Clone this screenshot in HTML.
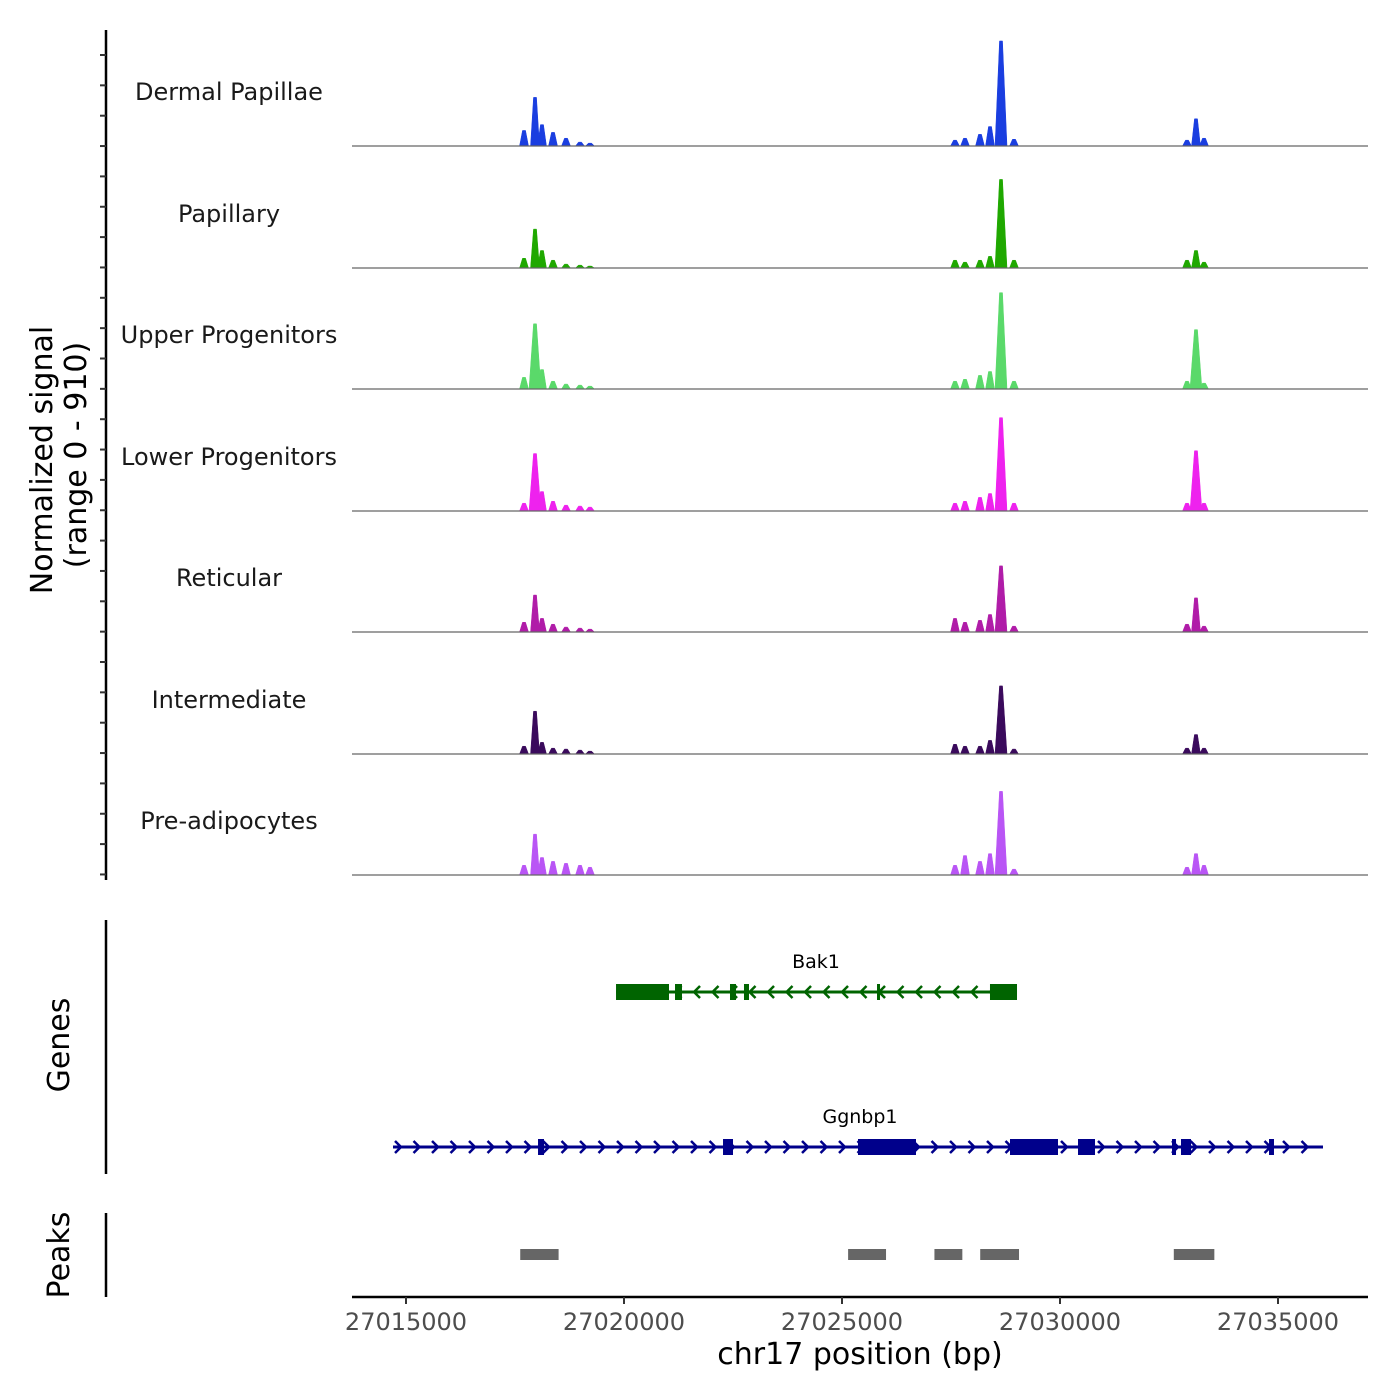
<!DOCTYPE html>
<html><head><meta charset="utf-8"><style>
body{margin:0;background:#fff;}
svg{display:block;font-family:"DejaVu Sans","Liberation Sans",sans-serif;}
</style></head><body>
<svg id="chart" width="1400" height="1400" xmlns="http://www.w3.org/2000/svg">
<rect width="1400" height="1400" fill="#fff"/>
<g id="tracks"></g>
<g id="left"></g>
<g id="genes"></g>
<g id="peaks"></g>
<g id="xaxis"></g>
</svg>
<script>
const NS="http://www.w3.org/2000/svg";
const trackNames=["Dermal Papillae","Papillary","Upper Progenitors","Lower Progenitors","Reticular","Intermediate","Pre-adipocytes"];
const trackColors=["#1a3ee0","#1fa800","#5ad96a","#ee22ee","#b01ca8","#3a0a5c","#b955f5"];
const peakPositions=[27017707,27017959,27018119,27018372,27018670,27018991,27019220,27027592,27027821,27028165,27028395,27028647,27028945,27032913,27033119,27033303];
const sigDermal=[120,375,165,105,60,30,22,45,60,90,150,810,52,45,210,60];
const sigPapillary=[75,300,135,60,30,22,15,60,45,60,90,683,60,60,135,45];
const sigUpper=[90,503,150,60,38,30,22,60,75,105,135,743,60,60,458,45];
const sigLower=[60,443,150,75,45,38,30,60,75,105,135,720,60,60,465,60];
const sigReticular=[75,285,105,60,38,30,22,105,75,90,135,510,45,60,263,45];
const sigIntermediate=[60,330,90,45,38,30,22,75,60,60,105,525,38,45,150,45];
const sigPreadip=[75,315,135,105,90,75,60,75,150,105,165,645,45,60,165,75];
const signals=[sigDermal,sigPapillary,sigUpper,sigLower,sigReticular,sigIntermediate,sigPreadip];
const xTicks=[27015000,27020000,27025000,27030000,27035000];
const peakRegions=[[27017620,27018500],[27025140,27026010],[27027120,27027760],[27028170,27029060],[27032610,27033540]];
const bak1Span=[27019817,27029014];
const bak1Exons=[[27019817,27021032],[27021170,27021330],[27022431,27022569],[27022752,27022867],[27025803,27025872],[27028394,27029014]];
const ggnSpan=[27014702,27036032];
const ggnExons=[[27018028,27018165],[27022271,27022500],[27025367,27026697],[27028853,27029954],[27030413,27030803],[27032569,27032661],[27032775,27033005],[27034794,27034908]];
const YMAX=910;

const x=bp=>406+(bp-27015000)*0.0436;
const baselines=[146,268,389,511,632,754,875];
const TH=118;
const y=(v,i)=>baselines[i]-v/YMAX*TH;
function el(tag,attrs,parent){const e=document.createElementNS(NS,tag);for(const k in attrs)e.setAttribute(k,attrs[k]);parent.appendChild(e);return e;}

const gT=document.getElementById('tracks');
signals.forEach((s,i)=>{
  const g=el('g',{},gT);
  
  
  let d='';
  s.forEach((v,j)=>{
    const hw=v>400?6:4.5;
    const cx=x(peakPositions[j]);
    d+=`M${cx-hw},${baselines[i]} L${cx-1.5},${y(v,i)} L${cx+1.5},${y(v,i)} L${cx+hw},${baselines[i]} Z `;
  });
  const p=el('path',{d:d,fill:trackColors[i],stroke:trackColors[i],'stroke-width':0.5},g);
  
  
  const bl=el('line',{x1:352,x2:1368,y1:baselines[i],y2:baselines[i],stroke:'#666','stroke-width':1.2},g);
  
  
  const t=el('text',{x:229,y:baselines[i]-46,'text-anchor':'middle','font-size':24,fill:'#1a1a1a'},g);
  t.textContent=trackNames[i];
  
  
});

const gL=document.getElementById('left');
el('line',{x1:106,x2:106,y1:30,y2:880,stroke:'#000','stroke-width':2.5},gL);
for(let ty=55;ty<=880;ty+=30.35){el('line',{x1:100,x2:106,y1:ty,y2:ty,stroke:'#333','stroke-width':2},gL);}
el('line',{x1:106,x2:106,y1:920,y2:1174,stroke:'#000','stroke-width':2.5},gL);
el('line',{x1:106,x2:106,y1:1213,y2:1297,stroke:'#000','stroke-width':2.5},gL);
function vtext(txt,cx,cy,name){const t=el('text',{x:cx,y:cy,'text-anchor':'middle','font-size':30,fill:'#000',transform:`rotate(-90 ${cx} ${cy})`},gL);t.textContent=txt;}
vtext('Normalized signal',52,460,'y-axis-title');
vtext('(range 0 - 910)',86,455,'y-axis-range');
vtext('Genes',69,1045,'genes-label');
vtext('Peaks',69,1255,'peaks-label');

const gG=document.getElementById('genes');
function gene(span,exons,yy,color,dir,name,lx,ly){
  const g=el('g',{},gG);
  
  
  el('line',{x1:x(span[0]),x2:x(span[1]),y1:yy,y2:yy,stroke:color,'stroke-width':3},g);
  for(let px=x(span[0])+6;px<x(span[1])-4;px+=18.5){
    const d=dir>0?`M${px-4},${yy-6} L${px+2},${yy} L${px-4},${yy+6}`:`M${px+4},${yy-6} L${px-2},${yy} L${px+4},${yy+6}`;
    el('path',{d:d,fill:'none',stroke:color,'stroke-width':2.5},g);
  }
  exons.forEach(e=>{el('rect',{x:x(e[0]),y:yy-8,width:Math.max(3,x(e[1])-x(e[0])),height:16,fill:color},g);});
  const t=el('text',{x:lx,y:ly,'text-anchor':'middle','font-size':19,fill:'#000'},g);t.textContent=name;
}
gene(bak1Span,bak1Exons,992,'#006400',-1,'Bak1',816,968);
gene(ggnSpan,ggnExons,1147,'#00008b',1,'Ggnbp1',860,1123);

const gP=document.getElementById('peaks');
peakRegions.forEach(r=>{const rc=el('rect',{x:x(r[0]),y:1249,width:x(r[1])-x(r[0]),height:11,fill:'#666'},gP);

});

const gX=document.getElementById('xaxis');
el('line',{x1:352,x2:1368,y1:1297,y2:1297,stroke:'#000','stroke-width':2.5},gX);
xTicks.forEach(v=>{el('line',{x1:x(v),x2:x(v),y1:1297,y2:1304,stroke:'#333','stroke-width':2},gX);
const t=el('text',{x:x(v),y:1330,'text-anchor':'middle','font-size':24,fill:'#4d4d4d'},gX);t.textContent=v;

});
const xt=el('text',{x:860,y:1364,'text-anchor':'middle','font-size':30,fill:'#000'},gX);xt.textContent='chr17 position (bp)';


</script>
</body></html>
